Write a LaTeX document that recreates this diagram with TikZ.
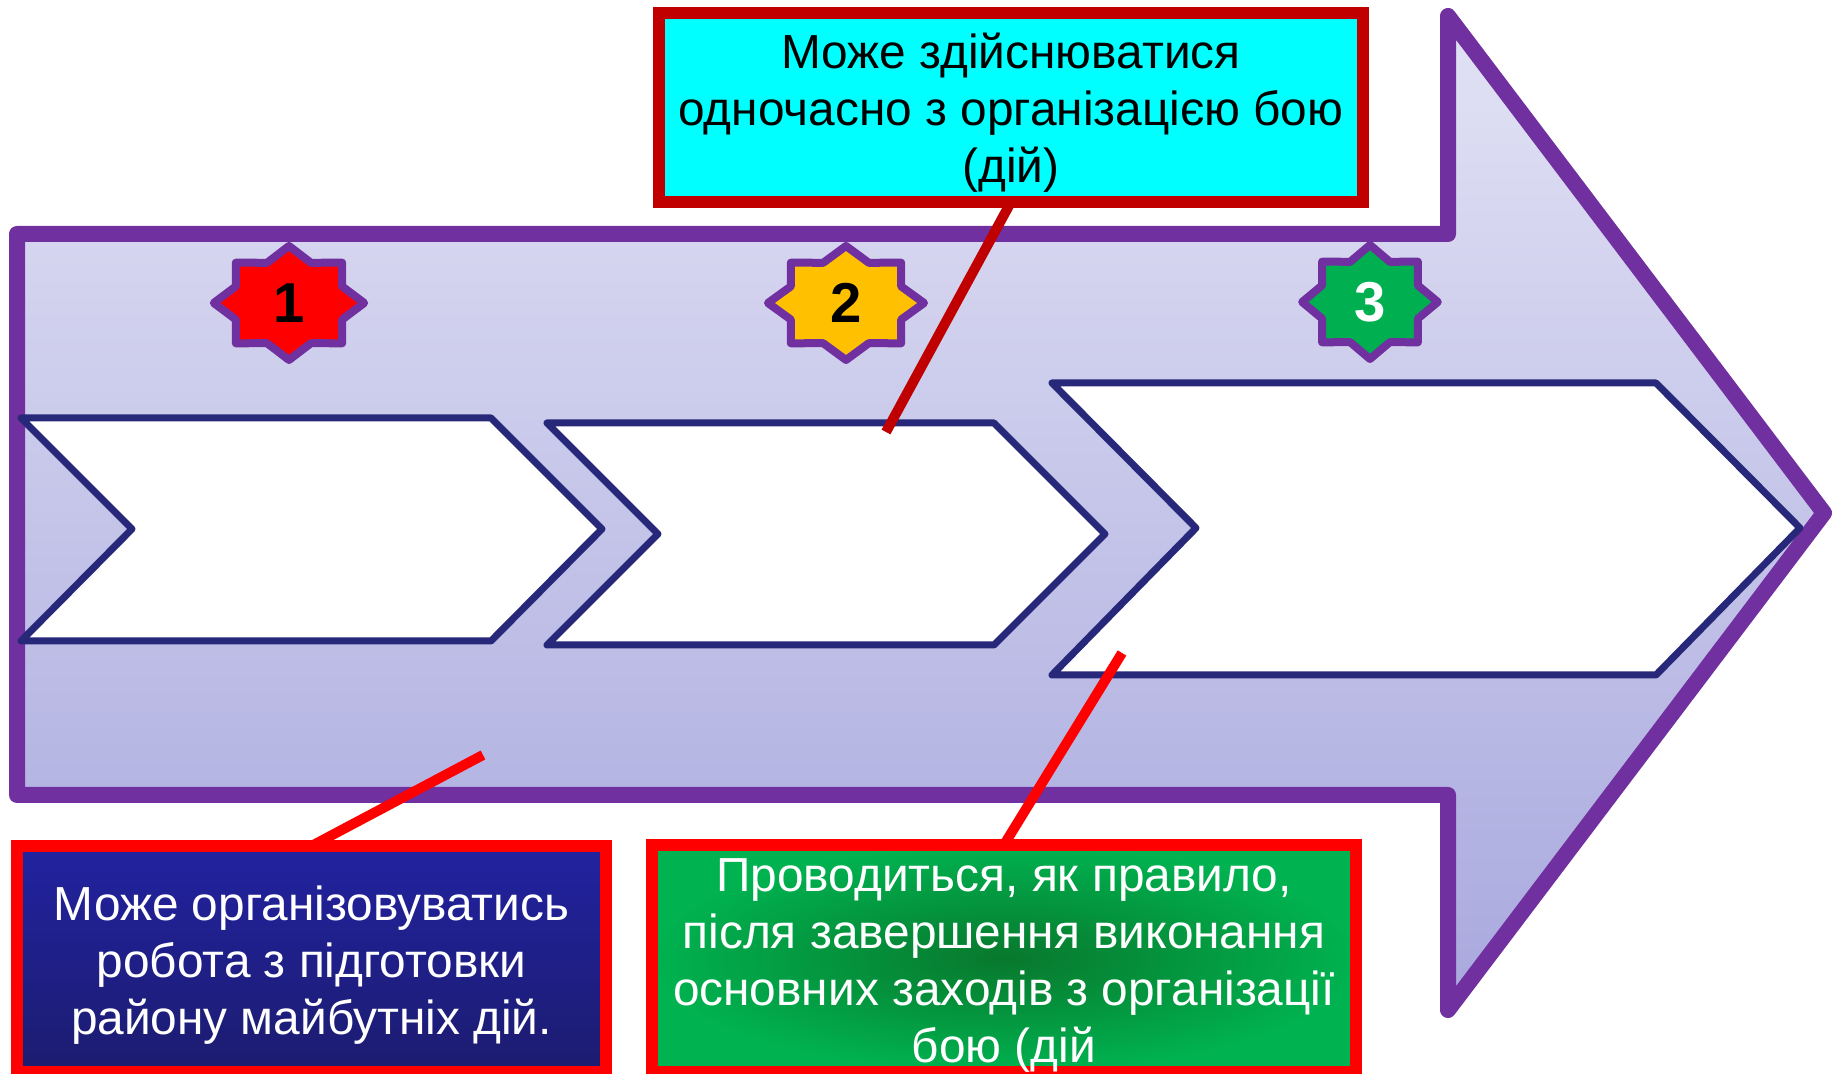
\documentclass[tikz,border=0pt]{standalone}
\usepackage{fontspec}
\setmainfont{Liberation Sans}
\usetikzlibrary{shapes.geometric}

\definecolor{arrowviolet}{HTML}{7030A0}
\definecolor{chevnavy}{HTML}{28287A}
\definecolor{darkred}{HTML}{C00000}
\definecolor{notecyan}{HTML}{00FFFF}
\definecolor{staramber}{HTML}{FFC000}
\definecolor{stargreen}{HTML}{00B050}
\definecolor{lavtop}{RGB}{226,226,245}
\definecolor{lavbot}{RGB}{168,168,222}
\definecolor{boxblue}{RGB}{34,34,160}
\definecolor{boxbluedark}{RGB}{28,28,112}
\definecolor{boxgreen}{RGB}{0,178,80}
\definecolor{boxgreendark}{RGB}{8,120,45}

\begin{document}
\begin{tikzpicture}
      [
        x=0.1mm, y=-0.1mm,
        bigarrow/.style={draw=arrowviolet, line width=1.6mm, line join=round,
          top color=lavtop, bottom color=lavbot},
        chevron/.style={draw=chevnavy, line width=0.7mm, fill=white, line join=round},
        badge/.style={star, star points=8, star point ratio=1.31, minimum size=11.4mm,
          inner sep=0pt, draw=arrowviolet, line width=0.8mm, line join=round},
        badgenum/.style={font=\fontsize{16}{16}\selectfont\bfseries},
        callout/.style={line width=1mm},
        notebox/.style={rectangle, line width=1.2mm, outer sep=0pt, inner sep=0pt,
          align=center, font=\fontsize{13.6}{16.2}\selectfont}
      ]
      \useasboundingbox (0,0) rectangle (1833,1074);

      \draw[bigarrow] (17,234) -- (1448,234) -- (1448,16) -- (1824,513)
        -- (1448,1010) -- (1448,795) -- (17,795) -- cycle;

      \draw[chevron] (21,418) -- (491,418) -- (602,529) -- (491,641) -- (21,641) -- (132,529) -- cycle;
      \draw[chevron] (547,423) -- (994,423) -- (1105,534) -- (994,645) -- (547,645) -- (658,534) -- cycle;
      \draw[chevron] (1052,383) -- (1656,383) -- (1800,528) -- (1656,675) -- (1052,675) -- (1196,528) -- cycle;

      \node[badge, fill=red, xscale=1.32] (s1) at (289,303) {};
      \node[badgenum] at (s1) {1};
      \node[badge, fill=staramber, xscale=1.37] (s2) at (846,303) {};
      \node[badgenum] at (s2) {2};
      \node[badge, fill=stargreen, xscale=1.19] (s3) at (1370,302) {};
      \node[badgenum, white] at (s3) {3};

      \node[notebox, draw=darkred, fill=notecyan, minimum width=70.4mm, minimum height=18.9mm]
        (cyannote) at (1011,107.5)
        {\rule{0pt}{13.3pt}Може здійснюватися\\одночасно з організацією бою\\(дій)};
      \node[notebox, draw=red, top color=boxblue, bottom color=boxbluedark, text=white,
        minimum width=58.9mm, minimum height=22.6mm]
        (bluenote) at (311.5,959)
        {\rule{0pt}{13.3pt}Може організовуватись\\робота з підготовки\\району майбутніх дій.};
      \node[notebox, draw=red, shading=radial, inner color=boxgreendark, outer color=boxgreen,
        text=white, minimum width=70.4mm, minimum height=22.7mm]
        (greennote) at (1004,958.5)
        {\rule{0pt}{13.3pt}Проводиться, як правило,\\після завершення виконання\\основних заходів з організації\\бою (дій};

      \coordinate (p2) at (886,432);
      \coordinate (p1) at (483,755);
      \coordinate (p3) at (1122,653);
      \draw[callout, darkred] (cyannote.south) -- (p2);
      \draw[callout, red] (bluenote.north) -- (p1);
      \draw[callout, red] (greennote.north) -- (p3);

    \end{tikzpicture}
\end{document}
